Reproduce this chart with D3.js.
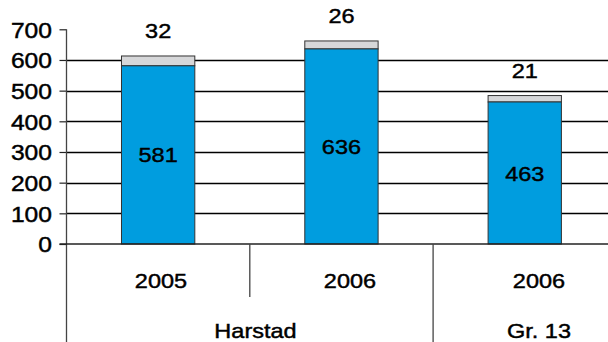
<!DOCTYPE html>
<html>
<head>
<meta charset="utf-8">
<script src="https://cdn.jsdelivr.net/npm/d3@7"></script>
<style>
  html, body { margin: 0; padding: 0; background: #fff; }
  svg { display: block; font-family: "Liberation Sans", Arial, Helvetica, sans-serif; }
  text { fill: #000; stroke: #000; stroke-width: 0.45px; }
</style>
</head>
<body>
<svg id="chart" width="608" height="342"></svg>
<script>
// Data
const years = ["2005", "2006", "2006"];
const groups = ["Harstad", "Harstad", "Gr. 13"];
const mainValues = [581, 636, 463];
const topValues = [32, 26, 21];
const yTicks = [0, 100, 200, 300, 400, 500, 600, 700];

const svg = d3.select("#chart");
const W = 608, H = 342;
const axisX = 66.5;
const SX = 1.12; // horizontal text stretch

// place a text with a horizontal stretch around its anchor point
function placeText(sel, px, py) {
  sel.attr("x", 0).attr("y", 0)
    .attr("transform", (d, i, n) => {
      const X = typeof px === "function" ? px(d, i, n) : px;
      const Y = typeof py === "function" ? py(d, i, n) : py;
      return `translate(${X},${Y}) scale(${SX},1)`;
    });
  return sel;
}

const y = d3.scaleLinear().domain([0, 700]).range([244, 29.3]);
const idx = d3.range(years.length);
const x = d3.scaleBand().domain(idx).range([axisX, axisX + 3 * 183.3]);
const barW = x.bandwidth() * 0.4;
// label positions along the category axis
const xl = d3.scaleBand().domain(idx).range([axisX, axisX + 3 * 189]);

// gridlines (100..600)
svg.append("g").selectAll("line")
  .data(yTicks.filter(t => t > 0 && t < 700))
  .join("line")
  .attr("x1", axisX).attr("x2", W)
  .attr("y1", d => Math.round(y(d)) + 0.5).attr("y2", d => Math.round(y(d)) + 0.5)
  .attr("stroke", "#000").attr("stroke-width", 1.3);

// y axis
const yAxis = d3.axisLeft(y).tickValues(yTicks).tickSize(7).tickPadding(8);
const gy = svg.append("g").attr("transform", `translate(${axisX},0)`).call(yAxis);
gy.select(".domain").remove();
gy.selectAll(".tick line").attr("stroke", "#222").attr("stroke-width", 1.2);
gy.selectAll(".tick text")
  .attr("font-size", 22)
  .attr("font-family", "'Liberation Sans', Arial, sans-serif")
  .attr("dy", "0.36em")
  .attr("x", 0)
  .attr("transform", `translate(-14.5,0) scale(${SX},1)`);

// vertical axis line running down through the category area
svg.append("line")
  .attr("x1", axisX).attr("x2", axisX).attr("y1", y(700)).attr("y2", H)
  .attr("stroke", "#444").attr("stroke-width", 1.3);

// bars
const bars = svg.append("g");
idx.forEach(i => {
  const cx = x(i) + x.bandwidth() / 2;
  bars.append("rect")
    .attr("x", cx - barW / 2).attr("width", barW)
    .attr("y", y(mainValues[i] + topValues[i]))
    .attr("height", y(mainValues[i]) - y(mainValues[i] + topValues[i]))
    .attr("fill", "#d6d7d9").attr("stroke", "#333").attr("stroke-width", 1);
  bars.append("rect")
    .attr("x", cx - barW / 2).attr("width", barW)
    .attr("y", y(mainValues[i]))
    .attr("height", y(0) - y(mainValues[i]))
    .attr("fill", "#009ddf").attr("stroke", "#333").attr("stroke-width", 1);
  placeText(bars.append("text"), cx, (y(0) + y(mainValues[i])) / 2)
    .attr("dy", "0.36em")
    .attr("text-anchor", "middle").attr("font-size", 21)
    .text(mainValues[i]);
  placeText(bars.append("text"), cx, y(mainValues[i] + topValues[i]) - 18)
    .attr("text-anchor", "middle").attr("font-size", 21)
    .text(topValues[i]);
});

// zero baseline
svg.append("line")
  .attr("x1", axisX - 7).attr("x2", W)
  .attr("y1", y(0)).attr("y2", y(0))
  .attr("stroke", "#222").attr("stroke-width", 1.4);

// category dividers
svg.append("line").attr("x1", x(1)).attr("x2", x(1)).attr("y1", y(0)).attr("y2", 297)
  .attr("stroke", "#444").attr("stroke-width", 1.3);
svg.append("line").attr("x1", x(2)).attr("x2", x(2)).attr("y1", y(0)).attr("y2", H)
  .attr("stroke", "#444").attr("stroke-width", 1.3);

// year labels
placeText(svg.append("g").selectAll("text").data(idx).join("text"),
    i => xl(i) + xl.bandwidth() / 2, 288)
  .attr("text-anchor", "middle").attr("font-size", 21)
  .text(i => years[i]);

// group labels
const groupNames = Array.from(new Set(groups));
placeText(svg.append("g").selectAll("text").data(groupNames).join("text"),
    g => {
      const members = idx.filter(i => groups[i] === g);
      return (xl(members[0]) + xl(members[members.length - 1]) + xl.bandwidth()) / 2;
    }, 338)
  .attr("text-anchor", "middle").attr("font-size", 21)
  .text(g => g);
</script>
</body>
</html>
